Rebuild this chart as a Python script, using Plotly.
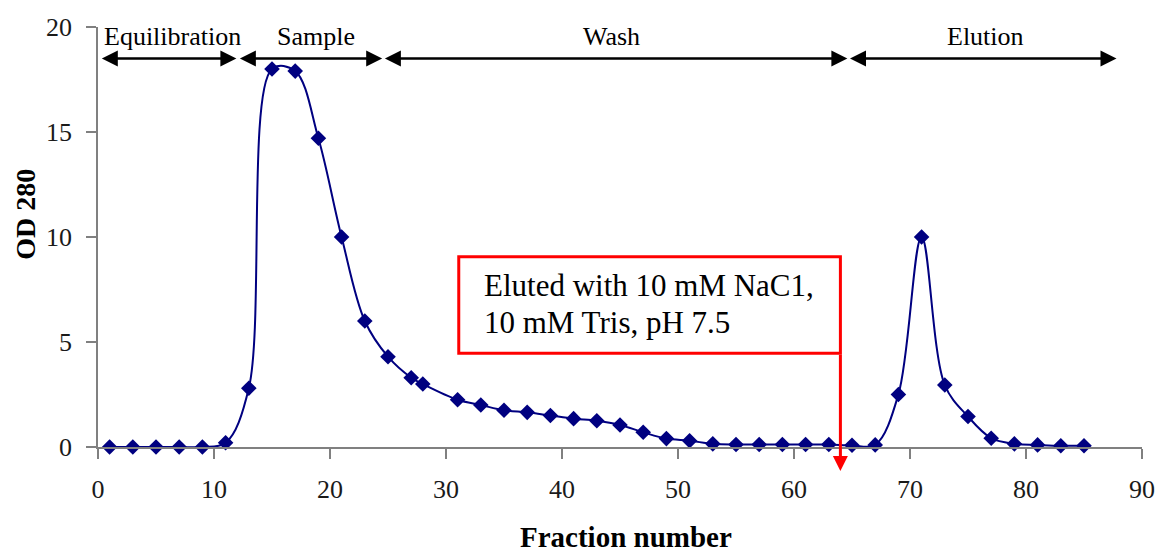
import plotly.graph_objects as go

# ---- data ----
fraction = [1, 3, 5, 7, 9, 11, 13, 15, 17, 19, 21, 23, 25, 27, 28, 31, 33, 35, 37, 39,
            41, 43, 45, 47, 49, 51, 53, 55, 57, 59, 61, 63, 65, 67, 69, 71, 73, 75, 77,
            79, 81, 83, 85]
od280 = [0, 0, 0, 0, 0, 0.2, 2.8, 18.0, 17.9, 14.7, 10.0, 6.0, 4.3, 3.3, 3.0, 2.25,
         2.0, 1.75, 1.65, 1.5, 1.35, 1.25, 1.05, 0.7, 0.4, 0.3, 0.15, 0.12, 0.12, 0.12,
         0.12, 0.12, 0.08, 0.1, 2.5, 10.0, 2.95, 1.45, 0.42, 0.15, 0.1, 0.06, 0.06]

phase_names = ["Equilibration", "Sample", "Wash", "Elution"]
phase_start = [0.2, 12.1, 24.6, 64.7]
phase_end = [11.93, 24.5, 64.6, 87.8]
phase_label_x = [6.44, 18.8, 44.25, 76.5]
phase_arrow_y = 18.5
phase_label_y = 19.57

box_x = [31.1, 64.0]
box_y = [4.46, 9.06]
box_lines = ["Eluted with 10 mM NaC1,", "10 mM Tris, pH 7.5"]
box_line_y = [7.68, 5.95]
box_text_x = 33.06
red_arrow_x = 64.0
red_arrow_tip_y = -1.14

x_ticks = [0, 10, 20, 30, 40, 50, 60, 70, 80, 90]
y_ticks = [0, 5, 10, 15, 20]

SERIF = "Liberation Serif"
NAVY = "#000080"

fig = go.Figure()
fig.add_trace(go.Scatter(
    x=fraction, y=od280, mode="lines+markers",
    line=dict(color=NAVY, width=2, shape="spline", smoothing=1),
    marker=dict(symbol="diamond", size=12, color=NAVY),
    cliponaxis=False, showlegend=False,
))

annotations = []
# phase arrows and labels
for name, x0, x1, lx in zip(phase_names, phase_start, phase_end, phase_label_x):
    annotations.append(dict(
        x=x1, y=phase_arrow_y, ax=x0, ay=phase_arrow_y,
        xref="x", yref="y", axref="x", ayref="y",
        text="", showarrow=True, arrowside="end+start",
        arrowhead=2, startarrowhead=2, arrowsize=1.28, startarrowsize=1.28,
        arrowwidth=2.5, arrowcolor="black", standoff=0, startstandoff=0,
    ))
    annotations.append(dict(
        x=lx, y=phase_label_y, xref="x", yref="y", text=name, showarrow=False,
        xanchor="center", yanchor="middle",
        font=dict(family=SERIF, size=26, color="black"),
    ))

# boxed note text
for line, ly in zip(box_lines, box_line_y):
    annotations.append(dict(
        x=box_text_x, y=ly, xref="x", yref="y", text=line, showarrow=False,
        xanchor="left", yanchor="middle",
        font=dict(family=SERIF, size=31, color="black"),
    ))

# red arrow from box corner down past the axis
annotations.append(dict(
    x=red_arrow_x, y=red_arrow_tip_y, ax=red_arrow_x, ay=box_y[0],
    xref="x", yref="y", axref="x", ayref="y",
    text="", showarrow=True, arrowhead=2, arrowsize=1, arrowwidth=3,
    arrowcolor="#FF0000", standoff=0, startstandoff=0,
))

# axis titles
annotations.append(dict(
    x=-0.0691, y=0.5548, xref="paper", yref="paper", text="OD 280",
    textangle=-90, showarrow=False, xanchor="center", yanchor="middle",
    font=dict(family=SERIF, size=28, color="black", weight="bold"),
))
annotations.append(dict(
    x=0.506, y=-0.2571, xref="paper", yref="paper", text="Fraction number",
    showarrow=False, xanchor="center", yanchor="bottom",
    font=dict(family=SERIF, size=29, color="black", weight="bold"),
))

fig.add_shape(type="rect", xref="x", yref="y",
              x0=box_x[0], x1=box_x[1], y0=box_y[0], y1=box_y[1],
              line=dict(color="#FF0000", width=3), fillcolor="rgba(0,0,0,0)")

axis_common = dict(
    showline=True, linecolor="#808080", linewidth=1.5,
    ticks="outside", ticklen=10, tickwidth=1.5, tickcolor="#808080",
    showgrid=False, zeroline=False,
    tickfont=dict(family=SERIF, size=26, color="#1a1a1a"),
)

fig.update_layout(
    width=1167, height=555,
    margin=dict(l=98, r=21, t=27, b=108),
    paper_bgcolor="white", plot_bgcolor="white",
    xaxis=dict(range=[0, 90], tickvals=x_ticks, ticklabelstandoff=8, **axis_common),
    yaxis=dict(range=[0, 20], tickvals=y_ticks, ticklabelstandoff=9, **axis_common),
    annotations=annotations,
    showlegend=False,
)

fig.write_html(
    "out.html",
    config={"displayModeBar": False},
    post_script="document.body.style.margin='0';document.body.style.padding='0';",
)
